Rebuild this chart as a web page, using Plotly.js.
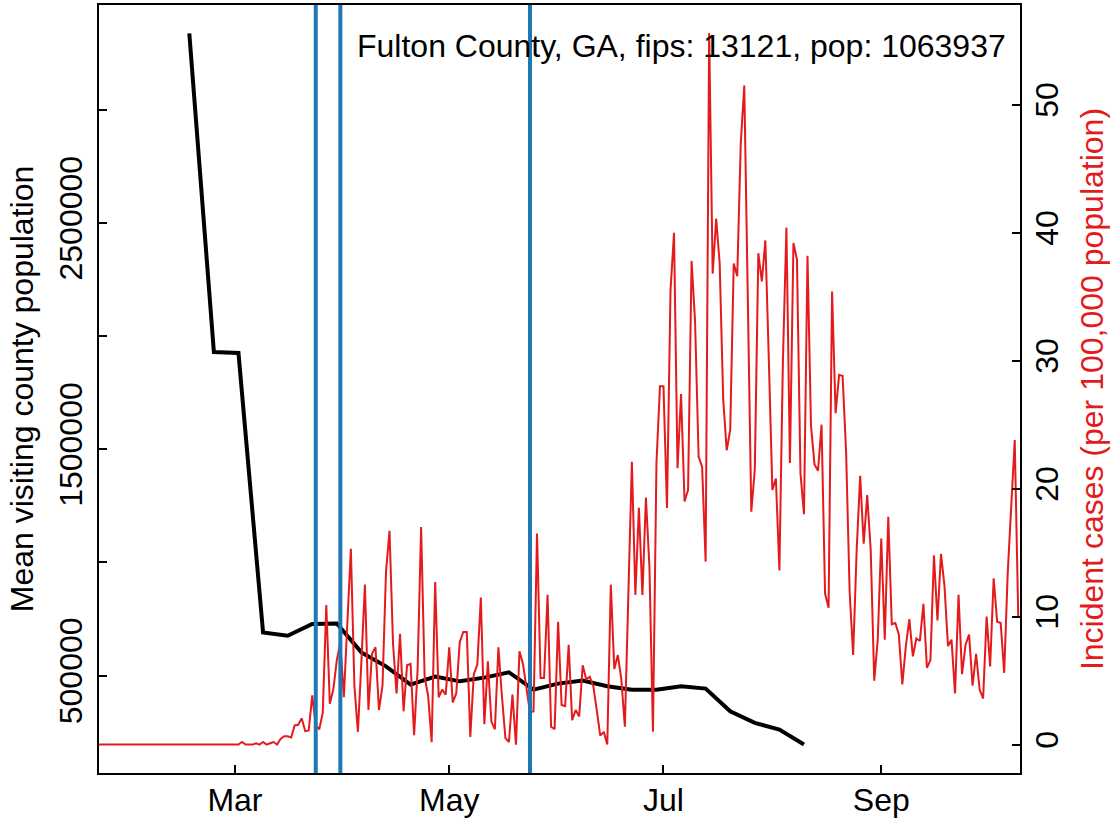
<!DOCTYPE html>
<html>
<head>
<meta charset="utf-8">
<script src="https://cdn.plot.ly/plotly-3.0.1.min.js"></script>
<style>
html, body { margin: 0; padding: 0; background: #ffffff; }
#chart { width: 1119px; height: 822px; }
</style>
</head>
<body>
<div id="chart"></div>
<script>
// ---------------- data ----------------
const countyLabel = 'Fulton County, GA, fips: 13121, pop: 1063937';

// weekly mean visiting county population (black line)
const mobilityDates = [
  '2020-02-17','2020-02-24','2020-03-02','2020-03-09','2020-03-16','2020-03-23','2020-03-30',
  '2020-04-06','2020-04-13','2020-04-20','2020-04-27','2020-05-04','2020-05-11','2020-05-18',
  '2020-05-25','2020-06-01','2020-06-08','2020-06-15','2020-06-22','2020-06-29','2020-07-06',
  '2020-07-13','2020-07-20','2020-07-27','2020-08-03','2020-08-10'
];
const mobilityValues = [
  3337600, 1929800, 1925400, 691100, 676500, 728200, 730800,
  602800, 541000, 460300, 495600, 474800, 491200, 514600,
  438200, 464700, 478000, 452800, 438200, 438200, 452800,
  442600, 342500, 291300, 261700, 195500
];

// daily incident cases per 100,000 (red line), first day = caseStartDate
const caseStartDate = '2020-01-21';
const incidentCases = [
  // Jan 21 - Jan 31
  0,0,0,0,0,0,0,0,0,0,0,
  // Feb 1 - Feb 29
  0,0,0,0,0,0,0,0,0,0,0,0,0,0,0,0,0,0,0,0,0,0,0,0,0,0,0,0,0,
  // Mar 1 - Mar 31
  0,0,0.2,0,0,0,0.1,0,0.2,0,0.1,0.2,0,0.45,0.65,0.65,0.55,1.5,1.55,2.05,
  1.05,1.1,3.85,1.5,1.2,2.5,10.9,3.2,4.3,6.6,8.0,
  // Apr 1 - Apr 30
  3.7,9.5,15.3,4.6,1.0,6.5,12.5,2.7,7.1,7.6,2.7,4.6,13.5,16.7,7.9,4.0,8.65,2.6,6.2,6.3,
  0.73,5.9,17.0,5.3,3.8,0.18,12.7,3.7,4.3,3.9,
  // May 1 - May 31
  7.6,3.3,4.0,8.0,8.8,8.8,0.6,5.5,6.25,11.5,1.6,6.5,1.8,1.2,7.6,3.8,0.5,0.2,3.9,0,
  7.3,6.3,4.3,2.5,2.6,16.5,5.2,5.2,11.7,1.4,1.2,
  // Jun 1 - Jun 30
  9.6,3.1,3.0,7.8,1.9,2.7,2.2,6.2,5.1,5.3,4.6,2.7,0.7,1.0,0,12.5,5.9,7.0,5.1,1.4,
  11.0,22.1,11.7,18.5,11.7,19.3,13.9,1.0,22.0,28.0,
  // Jul 1 - Jul 31
  28.0,18.5,35.5,40.0,21.6,27.4,19.0,19.9,37.8,33.0,22.5,21.7,14.3,55.6,36.8,41.1,37.6,27.0,23.0,24.6,
  37.6,36.6,47.0,51.5,35.0,18.2,21.5,38.4,36.2,39.4,30.0,
  // Aug 1 - Aug 31
  19.9,20.8,13.6,30.0,40.4,22.0,39.2,37.9,21.2,18.0,38.2,24.9,21.9,21.4,25.0,11.8,10.7,35.4,25.9,28.9,
  28.8,22.8,11.9,7.0,15.2,21.0,15.7,19.5,15.2,5.0,8.2,
  // Sep 1 - Sep 30
  16.1,8.2,17.8,9.4,9.5,8.6,4.7,7.7,9.8,6.9,8.3,8.1,11.0,6.0,6.6,14.8,9.7,14.9,12.4,7.7,
  8.2,4.0,11.7,5.5,7.8,8.6,4.6,7.1,4.3,3.6,
  // Oct 1 - Oct 10
  10.0,6.1,13.0,9.6,9.5,5.6,13.4,18.5,23.8,10.0
];

// vertical event markers (blue lines)
const eventDates = ['2020-03-24', '2020-03-31', '2020-05-24'];

// axes
const xRange = ['2020-01-22 07:00', '2020-10-10 12:00'];
const xTickDates = ['2020-03-01', '2020-05-01', '2020-07-01', '2020-09-01'];
const xTickLabels = ['Mar', 'May', 'Jul', 'Sep'];
const leftRange = [69800, 3463300];
const leftTickVals = [500000, 1000000, 1500000, 2000000, 2500000, 3000000];
const leftTickLabels = ['500000', '', '1500000', '', '2500000', ''];
const rightRange = [-2.22, 57.8];
const rightTickVals = [0, 10, 20, 30, 40, 50];
const rightTickLabels = ['0', '10', '20', '30', '40', '50'];

// ---------------- build ----------------
function dayString(start, offset) {
  const d = new Date(start + 'T00:00:00Z');
  d.setUTCDate(d.getUTCDate() + offset);
  return d.toISOString().slice(0, 10);
}
const caseDates = incidentCases.map((_, i) => dayString(caseStartDate, i));

const RED = '#E41A1C';
const BLUE = '#1F78B4';
const FONT = 'Liberation Sans, Arial, Helvetica, sans-serif';
const FS = 32;

const traces = [
  {
    x: mobilityDates, y: mobilityValues, type: 'scatter', mode: 'lines',
    line: { color: '#000000', width: 4 }, yaxis: 'y', hoverinfo: 'skip'
  },
  {
    x: caseDates, y: incidentCases, type: 'scatter', mode: 'lines',
    line: { color: RED, width: 2 }, yaxis: 'y2', hoverinfo: 'skip'
  }
];

const axisCommon = {
  showgrid: false, zeroline: false, showline: true, linecolor: '#000', linewidth: 2,
  ticks: 'inside', ticklen: 8, tickwidth: 2, tickcolor: '#000',
  tickfont: { family: FONT, size: FS, color: '#000' }
};

const layout = {
  width: 1119, height: 822,
  margin: { l: 99, r: 99, t: 5, b: 49, pad: 0 },
  paper_bgcolor: '#ffffff', plot_bgcolor: '#ffffff',
  showlegend: false,
  font: { family: FONT, size: FS, color: '#000' },
  xaxis: Object.assign({}, axisCommon, {
    type: 'date', range: xRange, tickmode: 'array',
    tickvals: xTickDates, ticktext: xTickLabels, tickangle: 0,
    mirror: true, automargin: false, ticklabelstandoff: -2
  }),
  yaxis: Object.assign({}, axisCommon, {
    range: leftRange, tickmode: 'array', tickvals: leftTickVals, ticktext: leftTickLabels,
    tickangle: -90, automargin: false, ticklabelstandoff: 2,
    title: { text: 'Mean visiting county population', font: { family: FONT, size: FS, color: '#000' }, standoff: 10 }
  }),
  yaxis2: Object.assign({}, axisCommon, {
    overlaying: 'y', side: 'right', anchor: 'x',
    range: rightRange, tickmode: 'array', tickvals: rightTickVals, ticktext: rightTickLabels,
    tickangle: -90, automargin: false, ticklabelstandoff: -2,
    title: { text: 'Incident cases (per 100,000 population)', font: { family: FONT, size: FS, color: RED }, standoff: 16 }
  }),
  shapes: eventDates.map(d => ({
    type: 'line', xref: 'x', yref: 'paper', x0: d, x1: d, y0: 0, y1: 1,
    line: { color: BLUE, width: 4 }, layer: 'above'
  })),
  annotations: [{
    text: countyLabel, xref: 'paper', yref: 'paper', x: 0.987, y: 0.9466,
    xanchor: 'right', yanchor: 'middle', showarrow: false,
    font: { family: FONT, size: FS, color: '#000' }
  }]
};

Plotly.newPlot('chart', traces, layout, { staticPlot: true, displayModeBar: false });
</script>
</body>
</html>
